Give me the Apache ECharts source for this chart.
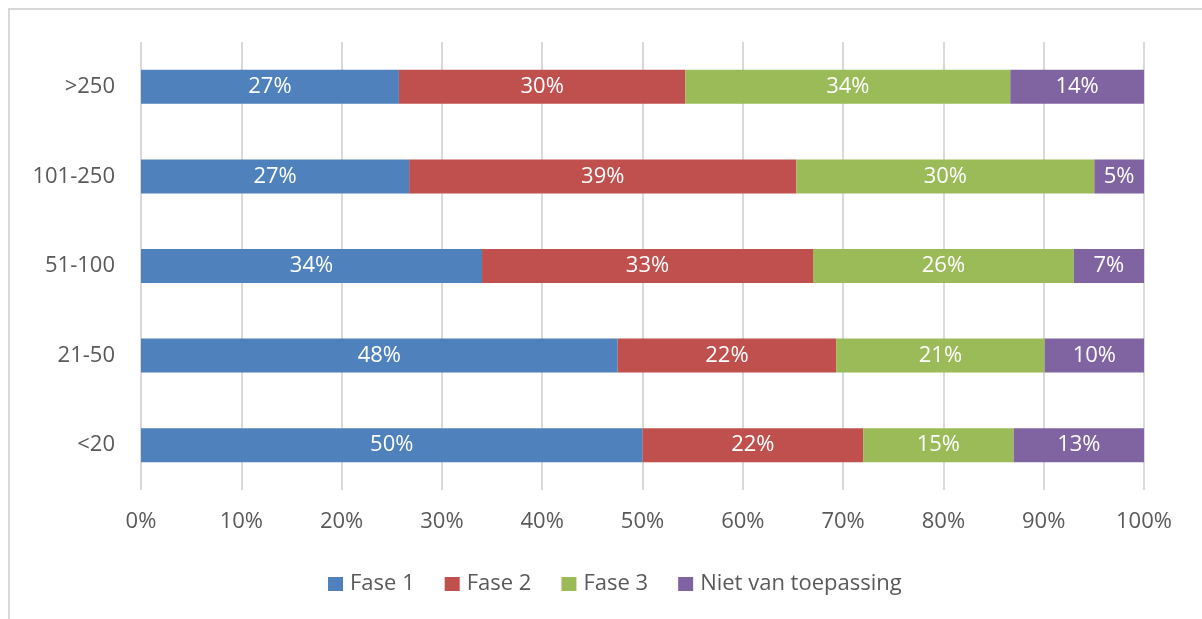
<!DOCTYPE html>
<html>
<head>
<meta charset="utf-8">
<script src="https://cdn.jsdelivr.net/npm/echarts@6/dist/echarts.min.js"></script>
<style>
    html, body { margin: 0; padding: 0; background: #fff; }
    #chart { width: 1202px; height: 619px; }
</style>
</head>
<body>
<div id="chart"></div>
<script>
// categorieën van onder naar boven
var categories = ['<20', '21-50', '51-100', '101-250', '>250'];
var fase1 = [50, 48, 34, 27, 27];
var fase2 = [22, 22, 33, 39, 30];
var fase3 = [15, 21, 26, 30, 34];
var nietVanToepassing = [13, 10, 7, 5, 14];
var xTicks = [0, 10, 20, 30, 40, 50, 60, 70, 80, 90, 100];

var seriesNames = ['Fase 1', 'Fase 2', 'Fase 3', 'Niet van toepassing'];
var seriesRaw = [fase1, fase2, fase3, nietVanToepassing];
var colors = ['#4F81BD', '#C0504D', '#9BBB59', '#8064A2'];

// 100% gestapeld: elke rij wordt naar zijn eigen totaal geschaald
var totals = categories.map(function (c, i) {
    return seriesRaw.reduce(function (s, arr) { return s + arr[i]; }, 0);
});

var font = '"Open Sans", Lato, sans-serif';

var series = seriesRaw.map(function (arr, k) {
    return {
        name: seriesNames[k],
        type: 'bar',
        stack: 'totaal',
        barWidth: 34,
        itemStyle: { color: colors[k] },
        label: {
            show: true,
            position: 'inside',
            color: '#ffffff',
            fontFamily: font,
            fontSize: 22,
            formatter: function (p) { return arr[p.dataIndex] + '%'; }
        },
        data: arr.map(function (v, i) { return v / totals[i] * 100; })
    };
});

var chart = echarts.init(document.getElementById('chart'));
chart.setOption({
    animation: false,
    graphic: [{
        type: 'rect',
        shape: { x: 9, y: 9, width: 1210, height: 630 },
        style: { fill: 'none', stroke: '#D9D9D9', lineWidth: 2 },
        silent: true
    }],
    grid: { left: 141, right: 58, top: 42, bottom: 129 },
    legend: {
        data: seriesNames,
        left: 323,
        top: 568,
        icon: 'rect',
        itemWidth: 15,
        itemHeight: 14,
        itemGap: 30,
        textStyle: { color: '#595959', fontFamily: font, fontSize: 22, padding: [0, 0, 0, 2] }
    },
    xAxis: {
        type: 'value',
        min: 0,
        max: 100,
        interval: 10,
        axisLine: { show: false },
        axisTick: { show: false },
        splitLine: { lineStyle: { color: '#D9D9D9', width: 2 } },
        axisLabel: {
            color: '#595959',
            fontFamily: font,
            fontSize: 22,
            margin: 21,
            formatter: function (v) { return xTicks.indexOf(v) >= 0 ? v + '%' : ''; }
        }
    },
    yAxis: {
        type: 'category',
        data: categories,
        axisLine: { show: false },
        axisTick: { show: false },
        axisLabel: { color: '#595959', fontFamily: font, fontSize: 22, margin: 26 }
    },
    series: series
});
</script>
</body>
</html>
